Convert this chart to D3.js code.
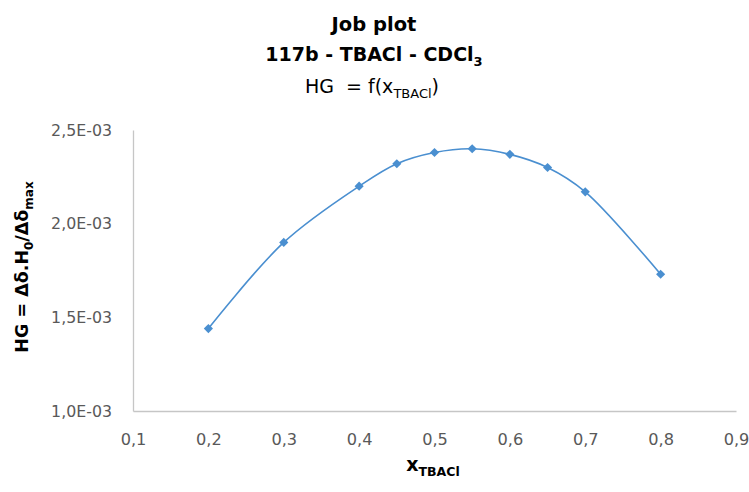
<!DOCTYPE html>
<html>
<head>
<meta charset="utf-8">
<script src="https://cdn.jsdelivr.net/npm/d3@7"></script>
<style>
  body { margin: 0; background: #fff; }
  text { font-family: "DejaVu Sans", sans-serif; }
</style>
</head>
<body>
<div class="chart"></div>
<script>
// Job plot data
var xValues = [0.2, 0.3, 0.4, 0.45, 0.5, 0.55, 0.6, 0.65, 0.7, 0.8];
var hgValues = [1.44e-3, 1.90e-3, 2.20e-3, 2.32e-3, 2.38e-3, 2.40e-3, 2.37e-3, 2.30e-3, 2.17e-3, 1.73e-3];
var xTicks = [0.1, 0.2, 0.3, 0.4, 0.5, 0.6, 0.7, 0.8, 0.9];
var yTicks = [1.0e-3, 1.5e-3, 2.0e-3, 2.5e-3];

var svgWidth = 749, svgHeight = 492;
var margin = { top: 130, right: 13, bottom: 81, left: 133 };
var width = svgWidth - margin.left - margin.right;
var height = svgHeight - margin.top - margin.bottom;

var svg = d3.select(".chart").append("svg")
    .attr("width", svgWidth)
    .attr("height", svgHeight);

var chartGroup = svg.append("g")
    .attr("transform", `translate(${margin.left}, ${margin.top})`);

var data = xValues.map((x, i) => ({ x: x, y: hgValues[i] }));

// scales
var xScale = d3.scaleLinear().domain([0.1, 0.9]).range([0, width]);
var yScale = d3.scaleLinear().domain([1.0e-3, 2.5e-3]).range([height, 0]);

// axes (labels only, grey axis lines)
var fmtX = d => d3.format(".1f")(d).replace(".", ",");
var fmtY = d => d3.format(".1f")(d * 1000).replace(".", ",") + "E-03";

var xAxis = chartGroup.append("g")
    .attr("transform", `translate(0, ${height})`)
    .call(d3.axisBottom(xScale).tickValues(xTicks).tickFormat(fmtX).tickSize(0).tickPadding(22));

var yAxis = chartGroup.append("g")
    .call(d3.axisLeft(yScale).tickValues(yTicks).tickFormat(fmtY).tickSize(0).tickPadding(21));

[xAxis, yAxis].forEach(a => {
    a.select(".domain").attr("stroke", "#c6c6c6").attr("stroke-width", 1.3);
    a.selectAll("text")
        .attr("fill", "#595959")
        .style("font-family", "'DejaVu Sans', sans-serif");
});
xAxis.selectAll("text").style("font-size", "16.2px");
yAxis.selectAll("text").style("font-size", "15.8px");

// smooth line through the points
var line = d3.line()
    .x(d => xScale(d.x))
    .y(d => yScale(d.y))
    .curve(d3.curveCatmullRom.alpha(0.5));

chartGroup.append("path")
    .datum(data)
    .attr("d", line)
    .attr("fill", "none")
    .attr("stroke", "#4a8fd0")
    .attr("stroke-width", 1.6);

// diamond markers
chartGroup.append("g")
    .selectAll("path")
    .data(data)
    .enter()
    .append("path")
    .attr("d", d3.symbol().type(d3.symbolSquare).size(42))
    .attr("transform", d => `translate(${xScale(d.x)}, ${yScale(d.y)}) rotate(45)`)
    .attr("fill", "#4a8fd0");

// titles
var title = svg.append("g").attr("text-anchor", "middle").attr("fill", "#000");
title.append("text")
    .attr("x", 374).attr("y", 31)
    .style("font-size", "19.5px").style("font-weight", "bold")
    .text("Job plot");

var t2 = title.append("text")
    .attr("x", 374).attr("y", 61)
    .style("font-size", "19px").style("font-weight", "bold");
t2.append("tspan").text("117b - TBACl - CDCl");
t2.append("tspan").attr("dy", 5).style("font-size", "13px").text("3");

var t3 = title.append("text")
    .attr("x", 372).attr("y", 93)
    .style("font-size", "19px")
    .attr("xml:space", "preserve");
t3.append("tspan").text("HG  = f(x");
t3.append("tspan").attr("dy", 5).style("font-size", "13px").text("TBACl");
t3.append("tspan").attr("dy", -5).text(")");

// y axis label
var yl = svg.append("text")
    .attr("transform", "translate(28, 267) rotate(-90)")
    .attr("text-anchor", "middle")
    .style("font-size", "17.5px").style("font-weight", "bold")
    .attr("fill", "#000");
yl.append("tspan").text("HG = Δδ.H");
yl.append("tspan").attr("dy", 5).style("font-size", "12px").text("0");
yl.append("tspan").attr("dy", -5).text("/Δδ");
yl.append("tspan").attr("dy", 5).style("font-size", "12px").text("max");

// x axis label
var xl = svg.append("text")
    .attr("x", 433).attr("y", 471)
    .attr("text-anchor", "middle")
    .style("font-size", "19px").style("font-weight", "bold")
    .attr("fill", "#000");
xl.append("tspan").text("x");
xl.append("tspan").attr("dy", 5).style("font-size", "12.5px").text("TBACl");
</script>
</body>
</html>
